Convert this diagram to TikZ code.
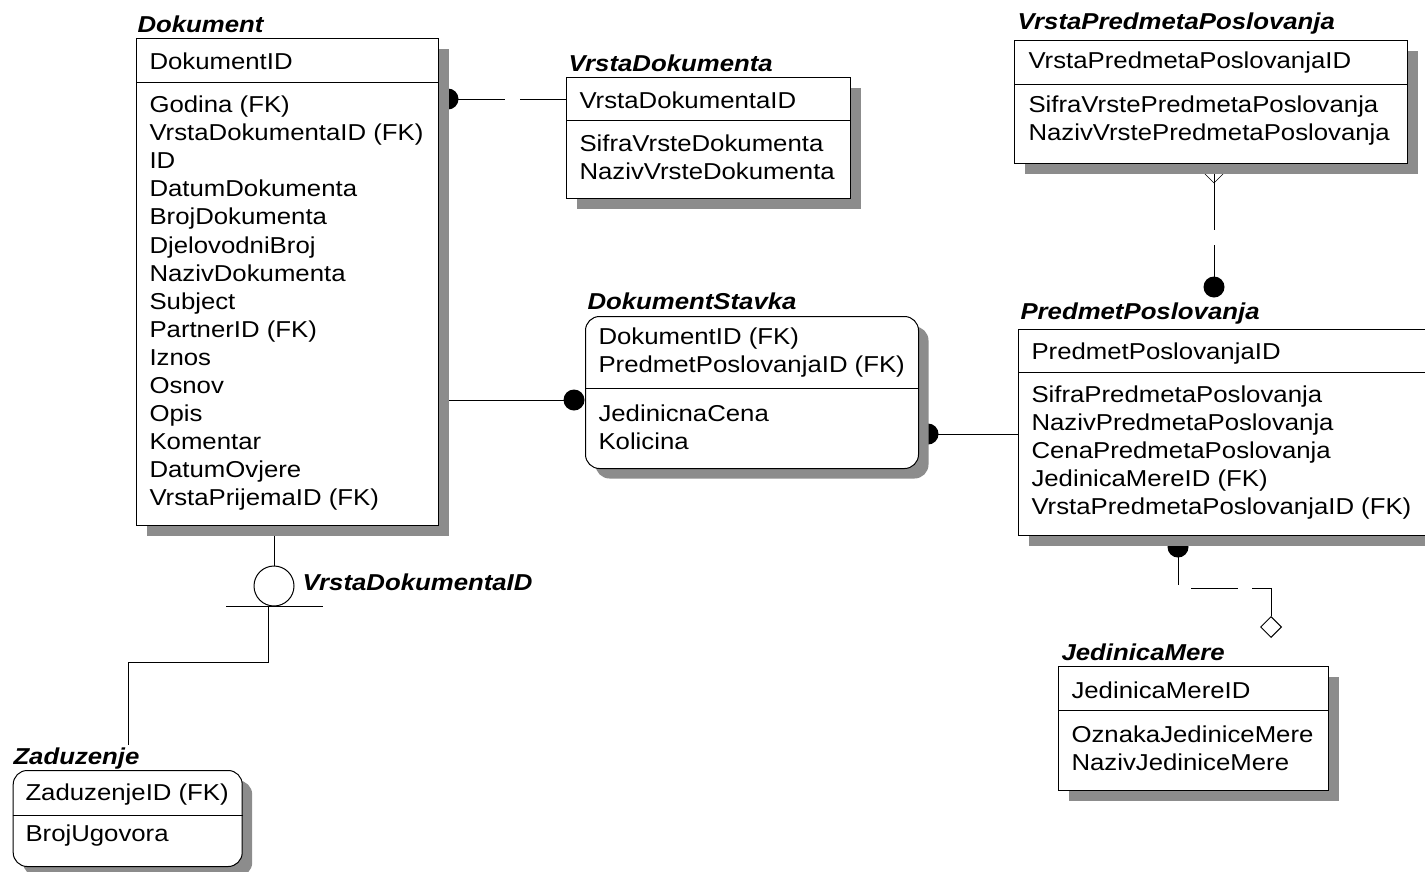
\documentclass[tikz,border=0pt]{standalone}
\usepackage{fontspec}
\setmainfont{Liberation Sans}[FakeStretch=1.12]
\usetikzlibrary{shadows,shapes.geometric,calc}
\pgfdeclarelayer{bg}
\pgfsetlayers{bg,main}
\definecolor{shadowgray}{RGB}{140,140,140}
\newcommand{\ercols}[1]{\begin{tabular}[t]{@{}l@{}}#1\end{tabular}}
\begin{document}
\begin{tikzpicture}[x=1pt,y=-1pt,line width=1pt,
  entity/.style={draw, fill=white, line width=1pt, inner sep=0pt, anchor=north west,
    drop shadow={shadow xshift=10pt, shadow yshift=-10pt, fill=shadowgray, opacity=1}},
  dependent/.style={entity, rounded corners=14pt},
  attr/.style={inner sep=0pt, anchor=base west, font=\fontsize{23}{28.1}\selectfont},
  title/.style={inner sep=0pt, anchor=base west, font=\fontsize{23}{28}\selectfont\bfseries\itshape},
  dot/.style={circle, fill=black, draw=none, inner sep=0pt, minimum size=21pt},
  divider/.style={line width=1pt}]
\useasboundingbox (0,0) rectangle (1425,871);
\clip (0,0) rectangle (1425,871);

% ---------- entity boxes ----------
\node[entity, minimum width=302pt, minimum height=487pt] (dok) at (136,38) {};
\node[entity, minimum width=284pt, minimum height=121pt] (vd) at (566,77) {};
\node[entity, minimum width=393pt, minimum height=123pt] (vpp) at (1014,40) {};
\node[dependent, minimum width=333pt, minimum height=152pt] (ds) at (585,316) {};
\node[entity, minimum width=430pt, minimum height=206pt] (pp) at (1018,329) {};
\node[entity, minimum width=270pt, minimum height=124pt] (jm) at (1058,666) {};
\node[dependent, minimum width=229pt, minimum height=96pt] (zad) at (12.7,770) {};

% ---------- dividers ----------
\draw[divider] (dok.west |- 0,82) -- (dok.east |- 0,82);
\draw[divider] (vd.west |- 0,120) -- (vd.east |- 0,120);
\draw[divider] (vpp.west |- 0,84) -- (vpp.east |- 0,84);
\draw[divider] (ds.west |- 0,388) -- (ds.east |- 0,388);
\draw[divider] (pp.west |- 0,372) -- (pp.east |- 0,372);
\draw[divider] (jm.west |- 0,710) -- (jm.east |- 0,710);
\draw[divider] (zad.west |- 0,815) -- (zad.east |- 0,815);

% ---------- titles ----------
\node[title] (tdok) at (137,32) {Dokument};
\node[title] (tvd) at (568,71.5) {VrstaDokumenta};
\node[title] (tvpp) at (1017,29.5) {VrstaPredmetaPoslovanja};
\node[title] (tds) at (587,309.5) {DokumentStavka};
\node[title] (tpp) at (1020,319) {PredmetPoslovanja};
\node[title] (tjm) at (1061,660) {JedinicaMere};
\node[title] (tzad) at (13,764) {Zaduzenje};

% ---------- attributes ----------
\node[attr] (kdok) at (149,69) {\ercols{DokumentID}};
\node[attr] (adok) at (149,112.5) {\ercols{Godina (FK)\\VrstaDokumentaID (FK)\\ID\\DatumDokumenta\\BrojDokumenta\\DjelovodniBroj\\NazivDokumenta\\Subject\\PartnerID (FK)\\Iznos\\Osnov\\Opis\\Komentar\\DatumOvjere\\VrstaPrijemaID (FK)}};
\node[attr] (kvd) at (579,108.3) {\ercols{VrstaDokumentaID}};
\node[attr] (avd) at (579,151.5) {\ercols{SifraVrsteDokumenta\\NazivVrsteDokumenta}};
\node[attr] (kvpp) at (1028,68.5) {\ercols{VrstaPredmetaPoslovanjaID}};
\node[attr] (avpp) at (1028,112) {\ercols{SifraVrstePredmetaPoslovanja\\NazivVrstePredmetaPoslovanja}};
\node[attr] (kds) at (598,344) {\ercols{DokumentID (FK)\\PredmetPoslovanjaID (FK)}};
\node[attr] (ads) at (598,421.5) {\ercols{JedinicnaCena\\Kolicina}};
\node[attr] (kpp) at (1031,359.5) {\ercols{PredmetPoslovanjaID}};
\node[attr] (app) at (1031,402) {\ercols{SifraPredmetaPoslovanja\\NazivPredmetaPoslovanja\\CenaPredmetaPoslovanja\\JedinicaMereID (FK)\\VrstaPredmetaPoslovanjaID (FK)}};
\node[attr] (kjm) at (1071,698) {\ercols{JedinicaMereID}};
\node[attr] (ajm) at (1071,742) {\ercols{OznakaJediniceMere\\NazivJediniceMere}};
\node[attr] (kzad) at (25,800) {\ercols{ZaduzenjeID (FK)}};
\node[attr] (azad) at (25,841.7) {\ercols{BrojUgovora}};

% ---------- subtype symbol and diamond ----------
\node[draw, circle, inner sep=0pt, minimum size=40pt] (sub) at (274,586) {};
\node[title] (tsub) at (302,590) {VrstaDokumentaID};
\node[draw, diamond, fill=white, inner sep=0pt, minimum width=21pt, minimum height=21pt] (dia) at (1271,627) {};

% ---------- connectors (behind the boxes and their shadows) ----------
\begin{pgfonlayer}{bg}
  % Dokument -- VrstaDokumenta
  \node[dot] (d1) at (448,99) {};
  \draw[dash pattern=on 57pt off 15pt on 300pt] (d1.center) -- (vd.west |- d1.center);
  % Dokument -- DokumentStavka
  \node[dot] (d2) at (574,400) {};
  \draw (dok.east |- d2.center) -- (d2.center);
  % DokumentStavka -- PredmetPoslovanja
  \node[dot] (d3) at (928,434) {};
  \draw (d3.center) -- (pp.west |- d3.center);
  % VrstaPredmetaPoslovanja -- PredmetPoslovanja
  \node[dot] (d4) at (1214,287) {};
  \coordinate (apex) at (1214,183);
  \draw (apex) -- ++(-12,-12);
  \draw (apex) -- ++(12,-12);
  \draw (vpp.south -| apex) -- (apex);
  \draw[dash pattern=on 47pt off 15pt on 300pt] (apex) -- (d4.center);
  % PredmetPoslovanja -- JedinicaMere
  \node[dot] (d5) at (1178,547) {};
  \coordinate (c1) at (1178,588);
  \coordinate (c2) at (dia.north |- c1);
  \draw[dash pattern=on 38pt off 16pt on 47pt off 14pt on 300pt] (d5.center) -- (c1) -- (c2) -- (dia.north);
  % Dokument -- Zaduzenje (subtype)
  \draw (dok.south -| sub) -- (sub.north);
  \coordinate (barL) at (226,606);
  \coordinate (barR) at (323,606);
  \draw (barL) -- (barR);
  \coordinate (subout) at (268,606);
  \coordinate (bend) at (128,662);
  \draw (subout) |- (bend) -- ([yshift=2pt]bend |- tzad.north);
\end{pgfonlayer}
\end{tikzpicture}
\end{document}
